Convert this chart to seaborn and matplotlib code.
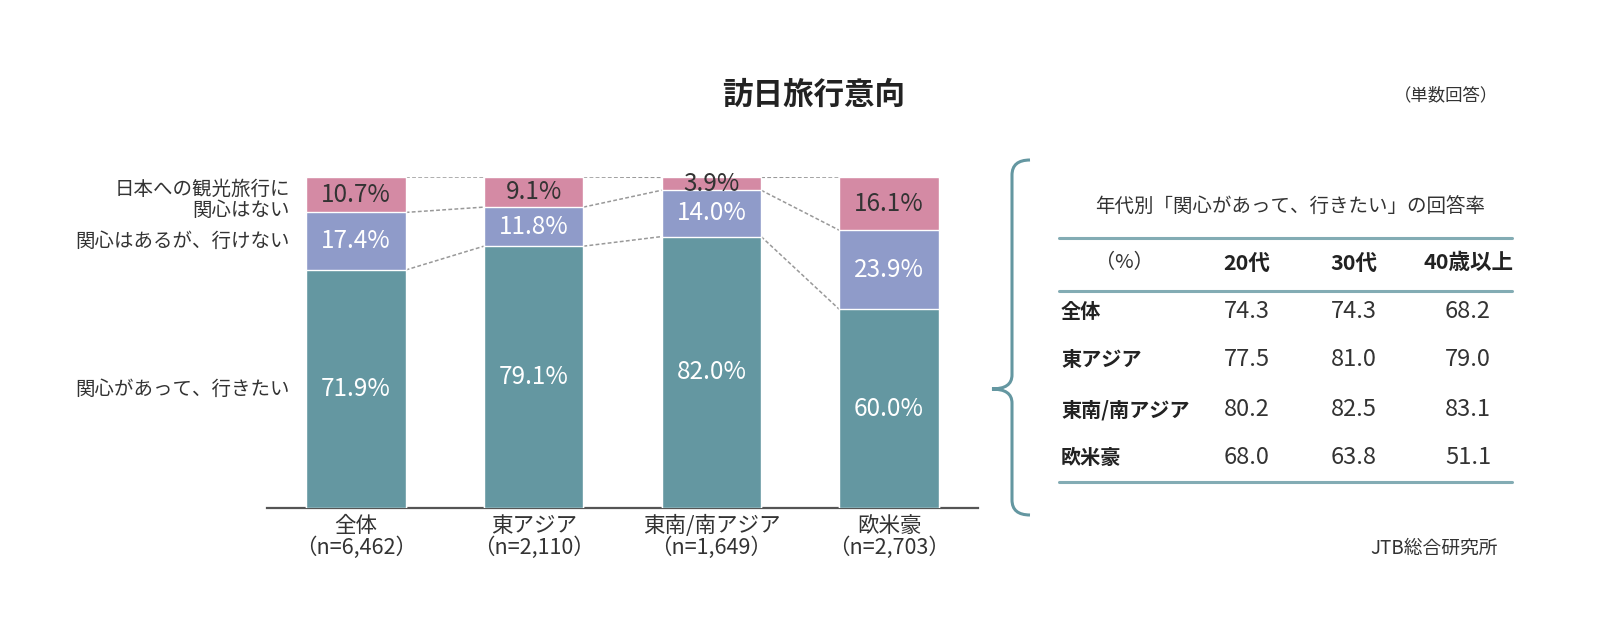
import matplotlib
matplotlib.use("Agg")
import matplotlib.pyplot as plt
import seaborn as sns
import pandas as pd
import numpy as np
from matplotlib.path import Path
from matplotlib.patches import PathPatch
from matplotlib.lines import Line2D

sns.set_theme(style="white")
plt.rcParams['font.family'] = ['Noto Sans CJK JP', 'DejaVu Sans']

# ---- data ----
categories = ["全体\n（n=6,462）", "東アジア\n（n=2,110）", "東南/南アジア\n（n=1,649）", "欧米豪\n（n=2,703）"]
want_to_go = [71.9, 79.1, 82.0, 60.0]        # 関心があって、行きたい
cannot_go = [17.4, 11.8, 14.0, 23.9]         # 関心はあるが、行けない
not_interested = [10.7, 9.1, 3.9, 16.1]      # 日本への観光旅行に関心はない
series_names = ["関心があって、行きたい", "関心はあるが、行けない", "日本への観光旅行に\n関心はない"]

table_title = "年代別「関心があって、行きたい」の回答率"
table_cols = ["（%）", "20代", "30代", "40歳以上"]
table_rows = ["全体", "東アジア", "東南/南アジア", "欧米豪"]
table_20s = [74.3, 77.5, 80.2, 68.0]
table_30s = [74.3, 81.0, 82.5, 63.8]
table_40s = [68.2, 79.0, 83.1, 51.1]

TEAL = "#6497a1"
PURPLE = "#8f9bc9"
PINK = "#d48aa4"
DARK = "#333333"

W, H = 1600, 631
fig = plt.figure(figsize=(16, 6.31), dpi=100)

def fx(x): return x / W
def fy(y): return 1 - y / H

# ---- stacked bars ----
ax = fig.add_axes([fx(267), fy(508), fx(978) - fx(267), fy(177) - fy(508)])
df = pd.DataFrame({"cat": categories, "a": want_to_go, "b": cannot_go, "c": not_interested})
df["ab"] = df["a"] + df["b"]
df["abc"] = df["ab"] + df["c"]
bw = 0.56
sns.barplot(data=df, x="cat", y="abc", color=PINK, width=bw, saturation=1, ax=ax, zorder=2)
sns.barplot(data=df, x="cat", y="ab", color=PURPLE, width=bw, saturation=1, ax=ax, zorder=3)
sns.barplot(data=df, x="cat", y="a", color=TEAL, width=bw, saturation=1, ax=ax, zorder=4)

ax.set_xlim(-0.5, 3.5)
ax.set_ylim(0, 100)
ax.set_xlabel("")
ax.set_ylabel("")
ax.set_yticks([])
ax.tick_params(axis="x", length=0, labelsize=15.5, labelcolor=DARK, pad=5)
for lab in ax.get_xticklabels():
    lab.set_linespacing(0.95)
for s in ["top", "right", "left"]:
    ax.spines[s].set_visible(False)
ax.spines["bottom"].set_color("#555555")
ax.spines["bottom"].set_linewidth(1.6)

# connector dashed lines
for i in range(len(categories) - 1):
    for lv in [df["a"], df["ab"], df["abc"]]:
        ax.plot([i + bw / 2, i + 1 - bw / 2], [lv[i], lv[i + 1]], ls=(0, (2.5, 1.5)),
                color="#999999", lw=1.1, zorder=1)

# segment labels
for i in range(len(categories)):
    a, b, c = want_to_go[i], cannot_go[i], not_interested[i]
    ax.text(i, a / 2, f"{a:.1f}%", ha="center", va="center", color="white", fontsize=17.5, zorder=5)
    ax.text(i, a + b / 2, f"{b:.1f}%", ha="center", va="center", color="white", fontsize=17.5, zorder=5)
    ax.text(i, a + b + c / 2, f"{c:.1f}%", ha="center", va="center", color=DARK, fontsize=17.5, zorder=5)

# series labels on the left
mids = [want_to_go[0] / 2, want_to_go[0] + cannot_go[0] / 2,
        want_to_go[0] + cannot_go[0] + not_interested[0] / 2 - 1.5]
for name, m in zip(series_names, mids):
    ax.text(-0.37, m, name, ha="right", va="center", fontsize=14, color=DARK, linespacing=1.0)

# ---- titles ----
fig.text(fx(814), fy(95), "訪日旅行意向", ha="center", va="center", fontsize=22, fontweight="bold", color="#222222")
fig.text(fx(1498), fy(95), "（単数回答）", ha="right", va="center", fontsize=12.5, color=DARK)
fig.text(fx(1498), fy(548), "JTB総合研究所", ha="right", va="center", fontsize=13.5, color=DARK)

# ---- brace ----
verts = [(1030, 160), (1012, 160), (1012, 175),
         (1012, 375),
         (1012, 389), (992, 389),
         (1012, 389), (1012, 403),
         (1012, 500),
         (1012, 515), (1030, 515)]
codes = [Path.MOVETO, Path.CURVE3, Path.CURVE3,
         Path.LINETO,
         Path.CURVE3, Path.CURVE3,
         Path.CURVE3, Path.CURVE3,
         Path.LINETO,
         Path.CURVE3, Path.CURVE3]
verts_fig = [(fx(x), fy(y)) for x, y in verts]
fig.patches.append(PathPatch(Path(verts_fig, codes), transform=fig.transFigure,
                             fill=False, edgecolor=TEAL, lw=2.2))

# ---- table ----
tx0, tx1 = 1059, 1512
fig.text(fx(1290), fy(207), table_title, ha="center", va="center", fontsize=14, color=DARK)
for y in [238, 291, 482]:
    fig.add_artist(Line2D([fx(tx0), fx(tx1)], [fy(y), fy(y)], transform=fig.transFigure,
                          color=TEAL, lw=2.2, alpha=0.8))
col_x = [1124, 1247, 1354, 1468]
fig.text(fx(col_x[0]), fy(263), table_cols[0], ha="center", va="center", fontsize=14.5, color=DARK)
for cx, lab in zip(col_x[1:], table_cols[1:]):
    fig.text(fx(cx), fy(263), lab, ha="center", va="center", fontsize=15.5, fontweight="bold", color="#222222")
row_y = [312, 360, 410, 458]
for ry, name, v1, v2, v3 in zip(row_y, table_rows, table_20s, table_30s, table_40s):
    fig.text(fx(tx0 + 2), fy(ry), name, ha="left", va="center", fontsize=14.5, fontweight="bold", color="#222222")
    for cx, v in zip(col_x[1:], [v1, v2, v3]):
        fig.text(fx(cx), fy(ry), f"{v:.1f}", ha="center", va="center", fontsize=17, color=DARK)

fig.savefig("out.png", dpi=100, facecolor="white")
